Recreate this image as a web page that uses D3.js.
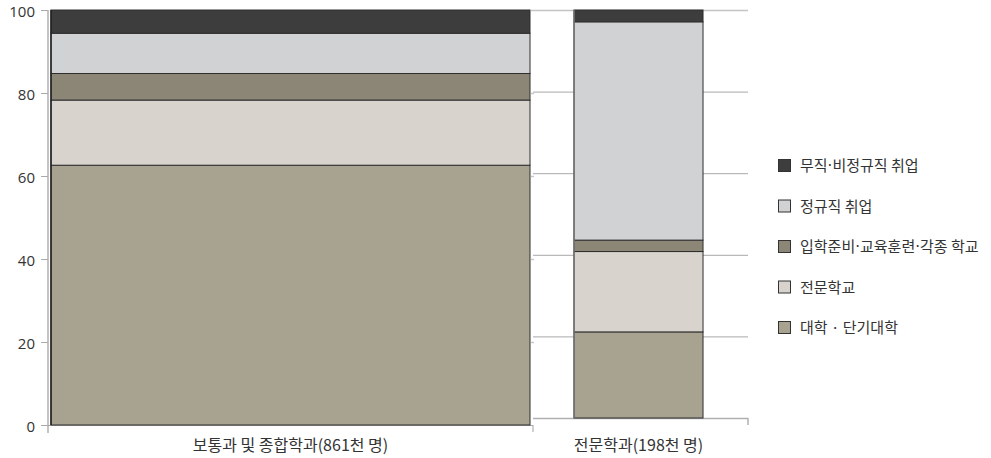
<!DOCTYPE html>
<html><head><meta charset="utf-8">
<script src="https://cdn.jsdelivr.net/npm/d3@7"></script>
<style>
body{margin:0;background:#fff;}
text{font-family:"Noto Sans CJK KR","Noto Sans",sans-serif;fill:#333;}
</style></head>
<body><svg id="c" width="991" height="458"></svg>
<script>
const categories = ["보통과 및 종합학과(861천 명)", "전문학과(198천 명)"];
const seriesNames = ["대학 · 단기대학", "전문학교", "입학준비·교육훈련·각종 학교", "정규직 취업", "무직·비정규직 취업"];
const seriesColors = ["#a8a290", "#d8d4cd", "#8c8677", "#d1d2d4", "#3d3d3d"];
const generalValues = [62.6, 15.7, 6.4, 9.7, 5.6];
const vocationalValues = [21.1, 19.7, 2.8, 53.5, 2.9];
const yTicks = [0, 20, 40, 60, 80, 100];

const svg = d3.select("#c");

// scales
const yL = d3.scaleLinear().domain([0, 100]).range([425, 10]);
const yR = d3.scaleLinear().domain([0, 100]).range([418, 10]);
const xL = d3.scaleBand().domain([categories[0]]).range([51, 530]).padding(0);
const xR = d3.scaleBand().domain([categories[1]]).range([533, 748]).padding(0.25).align(0.477);

// right panel gridlines
svg.append("g").selectAll("line").data(yTicks.filter(d => d > 0)).join("line")
  .attr("x1", d => d === 100 ? 531 : 533).attr("x2", 748)
  .attr("y1", d => yR(d) + 0.5).attr("y2", d => yR(d) + 0.5)
  .attr("stroke", d => d === 100 ? "#c4c4c4" : "#a8a8a8").attr("stroke-width", d => d === 100 ? 1.5 : 1);
// right baseline
svg.append("line").attr("x1", 533).attr("x2", 748).attr("y1", yR(0) + 0.5).attr("y2", yR(0) + 0.5)
  .attr("stroke", "#b0b0b0").attr("stroke-width", 1.5);
svg.append("line").attr("x1", 748).attr("x2", 748).attr("y1", yR(0)).attr("y2", yR(0) + 7)
  .attr("stroke", "#b0b0b0").attr("stroke-width", 1.5);
svg.append("line").attr("x1", 533).attr("x2", 533).attr("y1", yL(0)).attr("y2", yL(0) + 7)
  .attr("stroke", "#c0c0c0").attr("stroke-width", 1.5);
// small tick marks left of right panel
svg.append("g").selectAll("line").data([20, 40, 60, 80]).join("line")
  .attr("x1", 531).attr("x2", 534).attr("y1", d => yL(d) + 0.5).attr("y2", d => yL(d) + 0.5)
  .attr("stroke", "#c8c8c8").attr("stroke-width", 1.5);

// left axis
svg.append("line").attr("x1", 48).attr("x2", 48).attr("y1", yL(100)).attr("y2", yL(0) + 8)
  .attr("stroke", "#c4c4c4").attr("stroke-width", 2);
svg.append("g").selectAll("line").data(yTicks).join("line")
  .attr("x1", 41).attr("x2", 48).attr("y1", d => yL(d) + 0.5).attr("y2", d => yL(d) + 0.5)
  .attr("stroke", "#aaa").attr("stroke-width", 1);
svg.append("g").selectAll("text").data(yTicks).join("text")
  .attr("x", 35).attr("y", d => yL(d)).attr("dy", "0.44em").attr("text-anchor", "end")
  .style("font-family", "'Open Sans','Noto Sans',sans-serif").style("font-size", "15px")
  .text(d => d);
// left baseline
svg.append("line").attr("x1", 41).attr("x2", 533).attr("y1", yL(0) + 0.5).attr("y2", yL(0) + 0.5)
  .attr("stroke", "#a8a8a8").attr("stroke-width", 1);

function stack(vals) {
  let acc = 0;
  return vals.map((v, i) => { const d = {i, y0: acc, y1: acc + v}; acc += v; return d; });
}
// left bar
svg.append("g").selectAll("rect").data(stack(generalValues)).join("rect")
  .attr("x", xL(categories[0])).attr("width", xL.bandwidth())
  .attr("y", d => yL(d.y1)).attr("height", d => yL(d.y0) - yL(d.y1))
  .attr("fill", d => seriesColors[d.i]).attr("stroke", "#2e2e2e").attr("stroke-width", 1);
svg.append("line").attr("x1", xL(categories[0])).attr("x2", xL(categories[0]))
  .attr("y1", yL(100)).attr("y2", yL(0)).attr("stroke", "#222").attr("stroke-width", 1.5);
// right bar
svg.append("g").selectAll("rect").data(stack(vocationalValues)).join("rect")
  .attr("x", xR(categories[1])).attr("width", xR.bandwidth())
  .attr("y", d => yR(d.y1)).attr("height", d => yR(d.y0) - yR(d.y1))
  .attr("fill", d => seriesColors[d.i]).attr("stroke", "#2e2e2e").attr("stroke-width", 1);
svg.append("line").attr("x1", xR(categories[1])).attr("x2", xR(categories[1]))
  .attr("y1", yR(100)).attr("y2", yR(0)).attr("stroke", "#777").attr("stroke-width", 1.5);

// category labels
svg.append("text").attr("x", xL(categories[0]) + xL.bandwidth() / 2).attr("y", 445)
  .attr("dy", "0.35em").attr("text-anchor", "middle").style("font-size", "16px").text(categories[0]);
svg.append("text").attr("x", xR(categories[1]) + xR.bandwidth() / 2).attr("y", 445)
  .attr("dy", "0.35em").attr("text-anchor", "middle").style("font-size", "16px").text(categories[1]);

// legend
const legendOrder = [4, 3, 2, 1, 0];
const legendY = d3.scalePoint().domain(legendOrder).range([166, 328]);
const lg = svg.append("g");
legendOrder.forEach(i => {
  lg.append("rect").attr("x", 778.5).attr("y", legendY(i) - 6.5).attr("width", 12).attr("height", 12)
    .attr("fill", seriesColors[i]).attr("stroke", "#333").attr("stroke-width", 1);
  const t = lg.append("text").attr("x", 800).attr("y", legendY(i)).attr("dy", "0.35em")
    .style("font-size", "15px");
  const name = seriesNames[i];
  if (name.includes(" · ")) {
    t.text(name);
  } else {
    name.split(/(·)/).forEach(part => {
      const ts = t.append("tspan").text(part);
      if (part === "·") ts.style("font-family", "'DejaVu Sans',sans-serif");
    });
  }
});
</script></body></html>
